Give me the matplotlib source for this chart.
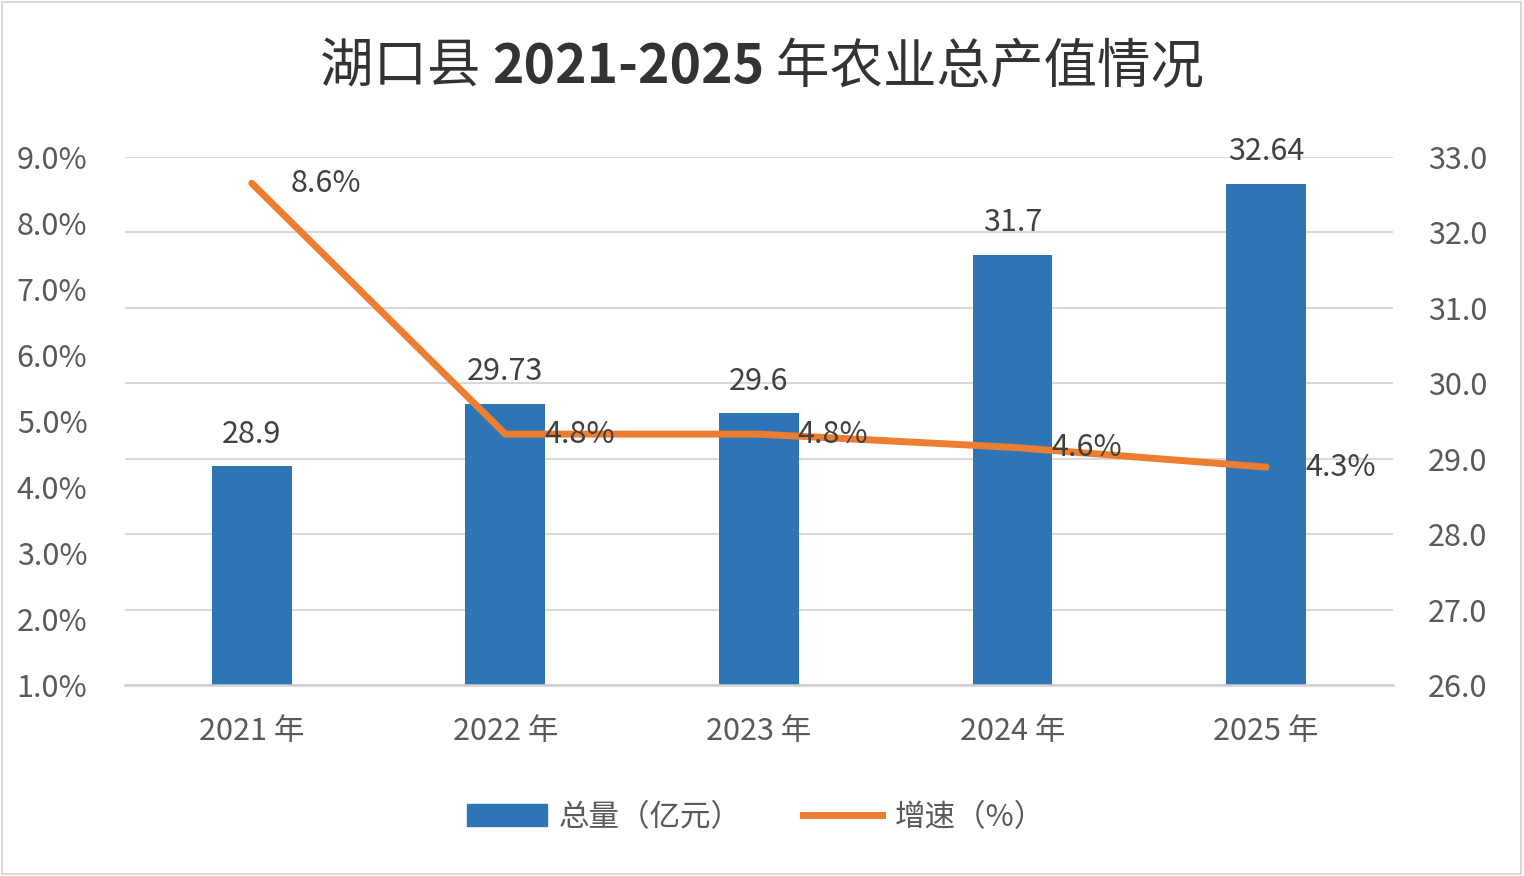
import matplotlib
matplotlib.use("Agg")
import matplotlib.pyplot as plt
from matplotlib.patches import Rectangle
from matplotlib.lines import Line2D
from matplotlib.ticker import FuncFormatter, FixedLocator
from matplotlib.offsetbox import TextArea, HPacker, AnchoredOffsetbox

plt.rcParams['font.family'] = ['Noto Sans CJK SC', 'DejaVu Sans']

years = ['2021 年', '2022 年', '2023 年', '2024 年', '2025 年']
total = [28.9, 29.73, 29.6, 31.7, 32.64]      # 总量（亿元）
growth = [8.6, 4.8, 4.8, 4.6, 4.3]            # 增速（%）

bar_color = '#2E75B6'
line_color = '#ED7D31'
tick_color = '#595959'
label_color = '#404040'
grid_color = '#D9D9D9'
fs = 22

fig = plt.figure(figsize=(15.24, 8.76), dpi=100)
ax = fig.add_axes([0.082, 0.218, 0.832, 0.603])
ax2 = ax.twinx()
x = list(range(len(years)))

# bars on the right axis
ax.bar(x, total, width=0.315, color=bar_color, zorder=2)
ax.set_ylim(26, 33)
ax.set_xlim(-0.5, 4.5)
ax.yaxis.tick_right()
ax.yaxis.set_label_position('right')
ax.yaxis.set_major_locator(FixedLocator(range(26, 34)))
ax.yaxis.set_major_formatter(FuncFormatter(lambda v, p: f'{v:.1f}'))
ax.grid(axis='y', color=grid_color, linewidth=1.5)
ax.set_axisbelow(True)
for s in ['top', 'left', 'right']:
    ax.spines[s].set_visible(False)
ax.spines['bottom'].set_color('#D0D0D0')
ax.spines['bottom'].set_linewidth(1.8)
ax.set_xticks(x)
ax.set_xticklabels(years)
ax.tick_params(axis='both', length=0, labelsize=fs, labelcolor=tick_color)
ax.tick_params(axis='x', pad=22)
ax.tick_params(axis='y', pad=25)
for xi, v in zip(x, total):
    ax.annotate(f'{v:g}', (xi, v), xytext=(0, 12), textcoords='offset points',
                ha='center', va='bottom', fontsize=fs, color=label_color)

# growth line on the left axis
ax2.yaxis.tick_left()
ax2.set_ylim(1, 9)
ax2.yaxis.set_major_locator(FixedLocator(range(1, 10)))
ax2.yaxis.set_major_formatter(FuncFormatter(lambda v, p: f'{v:.1f}%'))
ax2.tick_params(axis='y', length=0, labelsize=fs, labelcolor=tick_color, pad=27)
for s in ['top', 'left', 'right', 'bottom']:
    ax2.spines[s].set_visible(False)
ax2.plot(x, growth, color=line_color, linewidth=5, solid_capstyle='round', zorder=3)
for xi, v in zip(x, growth):
    ax2.annotate(f'{v:.1f}%', (xi, v), xytext=(28, 0), textcoords='offset points',
                 ha='left', va='center', fontsize=fs, color=label_color, zorder=4)

# title with bold years
tprops = dict(fontsize=38.5, color='#333333')
parts = [TextArea('湖口县 ', textprops=tprops),
         TextArea('2021-2025', textprops=dict(tprops, fontweight='bold')),
         TextArea(' 年农业总产值情况', textprops=tprops)]
title_box = AnchoredOffsetbox(loc='center', child=HPacker(children=parts, pad=0, sep=0, align='baseline'),
                              bbox_to_anchor=(0.5, 0.923), bbox_transform=fig.transFigure,
                              frameon=False, pad=0, borderpad=0)
fig.add_artist(title_box)

handles = [Rectangle((0, 0), 1, 1, color=bar_color),
           Line2D([0], [0], color=line_color, linewidth=5)]
fig.legend(handles, ['总量（亿元）', '增速（%）'], loc='center', bbox_to_anchor=(0.496, 0.067),
           ncol=2, frameon=False, fontsize=fs, labelcolor=tick_color,
           handlelength=2.6, handleheight=0.7, columnspacing=2.0, handletextpad=0.4)

fig.patches.append(Rectangle((0.001, 0.002), 0.997, 0.996, transform=fig.transFigure,
                             fill=False, edgecolor=grid_color, linewidth=1.5))

fig.savefig('out.png', dpi=100)
